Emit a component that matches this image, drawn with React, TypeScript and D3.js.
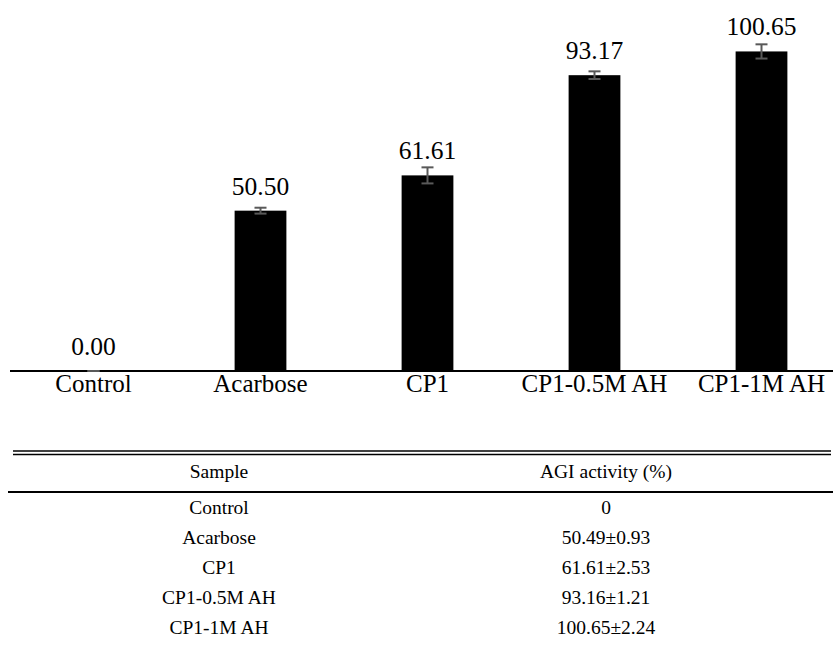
import React, { useEffect, useRef } from 'react';
import * as d3 from 'd3';

const samples = ['Control', 'Acarbose', 'CP1', 'CP1-0.5M AH', 'CP1-1M AH'];
const barValues = [0, 50.5, 61.61, 93.17, 100.65];
const barLabels = ['0.00', '50.50', '61.61', '93.17', '100.65'];
const errors = [0, 0.93, 2.53, 1.21, 2.24];
const tableHeader = ['Sample', 'AGI activity (%)'];
const tableValues = ['0', '50.49±0.93', '61.61±2.53', '93.16±1.21', '100.65±2.24'];

const W = 833;
const H = 657;
const font = "'Liberation Serif', 'Times New Roman', serif";

export default function App() {
  const ref = useRef<SVGSVGElement | null>(null);

  useEffect(() => {
    const svg = d3.select(ref.current);
    svg.selectAll('*').remove();

    const baseY = 371;
    const x = d3.scaleBand().domain(samples).range([10, 845]).paddingInner(0.69).paddingOuter(0.345);
    const y = d3.scaleLinear().domain([0, 100]).range([baseY, baseY - 317.5]);
    const cx = (d: string) => x(d)! + x.bandwidth() / 2;

    const g = svg.append('g');

    // bars
    g.selectAll('.bar')
      .data(samples)
      .enter()
      .append('rect')
      .attr('x', (d) => x(d)!)
      .attr('y', (d, i) => y(barValues[i]))
      .attr('width', x.bandwidth())
      .attr('height', (d, i) => baseY - y(barValues[i]))
      .attr('fill', '#000');

    // axis line
    g.append('line')
      .attr('x1', 10).attr('x2', W)
      .attr('y1', baseY).attr('y2', baseY)
      .attr('stroke', '#000')
      .attr('stroke-width', 2);

    // error bars (over the axis)
    const eb = g.selectAll('.err')
      .data(samples)
      .enter()
      .append('g')
      .attr('transform', (d) => `translate(${cx(d)},0)`)
      .attr('stroke', '#595959')
      .attr('stroke-width', 2);
    eb.append('line')
      .attr('y1', (d, i) => y(barValues[i] + errors[i]))
      .attr('y2', (d, i) => y(barValues[i] - errors[i]));
    eb.append('line')
      .attr('x1', -6).attr('x2', 6)
      .attr('y1', (d, i) => y(barValues[i] + errors[i]))
      .attr('y2', (d, i) => y(barValues[i] + errors[i]));
    eb.append('line')
      .attr('x1', -6).attr('x2', 6)
      .attr('y1', (d, i) => y(barValues[i] - errors[i]))
      .attr('y2', (d, i) => y(barValues[i] - errors[i]));

    // value labels
    g.selectAll('.vlabel')
      .data(samples)
      .enter()
      .append('text')
      .attr('x', cx)
      .attr('y', (d, i) => y(barValues[i]) - 16)
      .attr('text-anchor', 'middle')
      .style('font-family', font)
      .style('font-size', '25.5px')
      .text((d, i) => barLabels[i]);

    // category labels
    g.selectAll('.clabel')
      .data(samples)
      .enter()
      .append('text')
      .attr('x', cx)
      .attr('y', 392)
      .attr('text-anchor', 'middle')
      .style('font-family', font)
      .style('font-size', '25px')
      .text((d) => d);

    // table
    const t = svg.append('g').style('font-family', font).style('font-size', '19.5px');
    const colX = [219, 606];
    t.append('line').attr('x1', 13).attr('x2', 831).attr('y1', 451).attr('y2', 451).attr('stroke', '#000').attr('stroke-width', 1.6);
    t.append('line').attr('x1', 13).attr('x2', 831).attr('y1', 454.5).attr('y2', 454.5).attr('stroke', '#000').attr('stroke-width', 1.6);
    t.append('line').attr('x1', 8).attr('x2', W).attr('y1', 492).attr('y2', 492).attr('stroke', '#000').attr('stroke-width', 2);

    tableHeader.forEach((h, j) => {
      t.append('text').attr('x', colX[j]).attr('y', 478).attr('text-anchor', 'middle').text(h);
    });
    const rowY = d3.scaleLinear().domain([0, 4]).range([514, 634]);
    samples.forEach((s, i) => {
      t.append('text').attr('x', colX[0]).attr('y', rowY(i)).attr('text-anchor', 'middle').text(s);
      t.append('text').attr('x', colX[1]).attr('y', rowY(i)).attr('text-anchor', 'middle').text(tableValues[i]);
    });
  }, []);

  return (
    <svg
      ref={ref}
      width={W}
      height={H}
      style={{ position: 'absolute', left: 0, top: 0, background: '#fff' }}
    />
  );
}
